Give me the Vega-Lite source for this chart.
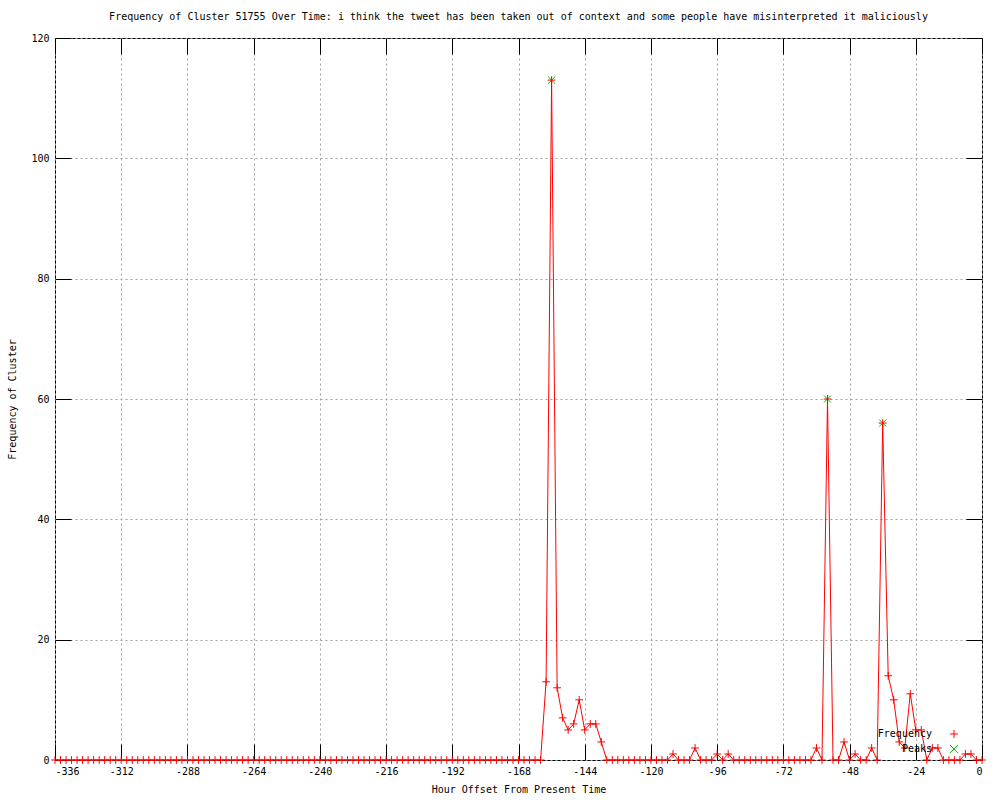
{
  "$schema": "https://vega.github.io/schema/vega-lite/v6.json",
  "autosize": {"type": "none"},
  "padding": {"left": 55, "top": 38, "right": 18, "bottom": 40},
  "width": 927,
  "height": 722,
  "background": "white",
  "title": {
    "text": "Frequency of Cluster 51755 Over Time: i think the tweet has been taken out of context and some people have misinterpreted it maliciously",
    "font": "DejaVu Sans Mono",
    "fontSize": 10,
    "fontWeight": "normal",
    "color": "black",
    "anchor": "middle",
    "offset": 11
  },
  "config": {
    "view": {"stroke": "black", "strokeWidth": 1},
    "axis": {
      "labelFont": "DejaVu Sans Mono",
      "labelFontSize": 10,
      "labelColor": "black",
      "titleFont": "DejaVu Sans Mono",
      "titleFontSize": 10,
      "titleFontWeight": "normal",
      "titleColor": "black",
      "tickColor": "black",
      "domain": false
    },
    "legend": {
      "labelFont": "DejaVu Sans Mono",
      "labelFontSize": 10,
      "labelColor": "black"
    }
  },
  "datasets": {
    "freq": [
      {"h":-336,"v":0},{"h":-334,"v":0},{"h":-332,"v":0},{"h":-330,"v":0},{"h":-328,"v":0},{"h":-326,"v":0},{"h":-324,"v":0},{"h":-322,"v":0},{"h":-320,"v":0},{"h":-318,"v":0},
      {"h":-316,"v":0},{"h":-314,"v":0},{"h":-312,"v":0},{"h":-310,"v":0},{"h":-308,"v":0},{"h":-306,"v":0},{"h":-304,"v":0},{"h":-302,"v":0},{"h":-300,"v":0},{"h":-298,"v":0},
      {"h":-296,"v":0},{"h":-294,"v":0},{"h":-292,"v":0},{"h":-290,"v":0},{"h":-288,"v":0},{"h":-286,"v":0},{"h":-284,"v":0},{"h":-282,"v":0},{"h":-280,"v":0},{"h":-278,"v":0},
      {"h":-276,"v":0},{"h":-274,"v":0},{"h":-272,"v":0},{"h":-270,"v":0},{"h":-268,"v":0},{"h":-266,"v":0},{"h":-264,"v":0},{"h":-262,"v":0},{"h":-260,"v":0},{"h":-258,"v":0},
      {"h":-256,"v":0},{"h":-254,"v":0},{"h":-252,"v":0},{"h":-250,"v":0},{"h":-248,"v":0},{"h":-246,"v":0},{"h":-244,"v":0},{"h":-242,"v":0},{"h":-240,"v":0},{"h":-238,"v":0},
      {"h":-236,"v":0},{"h":-234,"v":0},{"h":-232,"v":0},{"h":-230,"v":0},{"h":-228,"v":0},{"h":-226,"v":0},{"h":-224,"v":0},{"h":-222,"v":0},{"h":-220,"v":0},{"h":-218,"v":0},
      {"h":-216,"v":0},{"h":-214,"v":0},{"h":-212,"v":0},{"h":-210,"v":0},{"h":-208,"v":0},{"h":-206,"v":0},{"h":-204,"v":0},{"h":-202,"v":0},{"h":-200,"v":0},{"h":-198,"v":0},
      {"h":-196,"v":0},{"h":-194,"v":0},{"h":-192,"v":0},{"h":-190,"v":0},{"h":-188,"v":0},{"h":-186,"v":0},{"h":-184,"v":0},{"h":-182,"v":0},{"h":-180,"v":0},{"h":-178,"v":0},
      {"h":-176,"v":0},{"h":-174,"v":0},{"h":-172,"v":0},{"h":-170,"v":0},{"h":-168,"v":0},{"h":-166,"v":0},{"h":-164,"v":0},{"h":-162,"v":0},{"h":-160,"v":0},{"h":-158,"v":13},
      {"h":-156,"v":113},{"h":-154,"v":12},{"h":-152,"v":7},{"h":-150,"v":5},{"h":-148,"v":6},{"h":-146,"v":10},{"h":-144,"v":5},{"h":-142,"v":6},{"h":-140,"v":6},{"h":-138,"v":3},
      {"h":-136,"v":0},{"h":-134,"v":0},{"h":-132,"v":0},{"h":-130,"v":0},{"h":-128,"v":0},{"h":-126,"v":0},{"h":-124,"v":0},{"h":-122,"v":0},{"h":-120,"v":0},{"h":-118,"v":0},
      {"h":-116,"v":0},{"h":-114,"v":0},{"h":-112,"v":1},{"h":-110,"v":0},{"h":-108,"v":0},{"h":-106,"v":0},{"h":-104,"v":2},{"h":-102,"v":0},{"h":-100,"v":0},{"h":-98,"v":0},
      {"h":-96,"v":1},{"h":-94,"v":0},{"h":-92,"v":1},{"h":-90,"v":0},{"h":-88,"v":0},{"h":-86,"v":0},{"h":-84,"v":0},{"h":-82,"v":0},{"h":-80,"v":0},{"h":-78,"v":0},
      {"h":-76,"v":0},{"h":-74,"v":0},{"h":-72,"v":0},{"h":-70,"v":0},{"h":-68,"v":0},{"h":-66,"v":0},{"h":-64,"v":0},{"h":-62,"v":0},{"h":-60,"v":2},{"h":-58,"v":0},
      {"h":-56,"v":60},{"h":-54,"v":0},{"h":-52,"v":0},{"h":-50,"v":3},{"h":-48,"v":0},{"h":-46,"v":1},{"h":-44,"v":0},{"h":-42,"v":0},{"h":-40,"v":2},{"h":-38,"v":0},
      {"h":-36,"v":56},{"h":-34,"v":14},{"h":-32,"v":10},{"h":-30,"v":3},{"h":-28,"v":2},{"h":-26,"v":11},{"h":-24,"v":5},{"h":-22,"v":5},{"h":-20,"v":0},{"h":-18,"v":2},
      {"h":-16,"v":2},{"h":-14,"v":0},{"h":-12,"v":0},{"h":-10,"v":0},{"h":-8,"v":0},{"h":-6,"v":1},{"h":-4,"v":1},{"h":-2,"v":0},{"h":0,"v":0}
    ],
    "peaks": [
      {"h":-156,"v":113},{"h":-56,"v":60},{"h":-36,"v":56}
    ]
  },
  "resolve": {"axis": {"x": "independent", "y": "independent"}},
  "layer": [
    {
      "data": {"name": "freq"},
      "mark": {"type": "line", "color": "#ff0000", "strokeWidth": 1, "interpolate": "linear"},
      "encoding": {
        "x": {
          "field": "h", "type": "quantitative",
          "scale": {"domain": [-336, 0], "nice": false, "zero": false},
          "axis": {
            "orient": "bottom",
            "values": [-336,-312,-288,-264,-240,-216,-192,-168,-144,-120,-96,-72,-48,-24,0],
            "labelExpr": "'' + datum.value",
            "tickSize": -16,
            "labelPadding": 22,
            "grid": true,
            "gridColor": "#a0a0a0",
            "gridDash": [2, 3],
            "title": "Hour Offset From Present Time",
            "titlePadding": 8
          }
        },
        "y": {
          "field": "v", "type": "quantitative",
          "scale": {"domain": [0, 120], "nice": false},
          "axis": {
            "orient": "left",
            "values": [0,20,40,60,80,100,120],
            "tickSize": -16,
            "labelPadding": 22,
            "grid": true,
            "gridColor": "#a0a0a0",
            "gridDash": [2, 3],
            "title": "Frequency of Cluster",
            "titlePadding": 13
          }
        }
      }
    },
    {
      "data": {"name": "peaks"},
      "mark": {"type": "point", "filled": false, "strokeWidth": 1, "size": 50, "opacity": 1},
      "encoding": {
        "x": {"field": "h", "type": "quantitative",
          "axis": {"orient": "top", "values": [-336,-312,-288,-264,-240,-216,-192,-168,-144,-120,-96,-72,-48,-24,0], "labels": false, "grid": false, "tickSize": -16, "title": null}},
        "y": {"field": "v", "type": "quantitative",
          "axis": {"orient": "right", "values": [0,20,40,60,80,100,120], "labels": false, "grid": false, "tickSize": -16, "title": null}},
        "color": {
          "datum": "Peaks",
          "scale": {"domain": ["Frequency", "Peaks"], "range": ["#ff0000", "#00c000"]},
          "legend": {
            "title": null,
            "orient": "none",
            "legendX": 894,
            "legendY": 691,
            "symbolSize": 64,
            "symbolStrokeWidth": 1,
            "labelAlign": "right",
            "labelOffset": -27,
            "rowPadding": 3,
            "padding": 0
          }
        },
        "shape": {
          "datum": "Peaks",
          "scale": {"domain": ["Frequency", "Peaks"], "range": ["M-1,0L1,0M0,-1L0,1", "M-1,-1L1,1M-1,1L1,-1"]},
          "legend": {
            "title": null,
            "orient": "none",
            "legendX": 894,
            "legendY": 691,
            "symbolSize": 64,
            "symbolStrokeWidth": 1,
            "labelAlign": "right",
            "labelOffset": -27,
            "rowPadding": 3,
            "padding": 0
          }
        }
      }
    },
    {
      "data": {"name": "freq"},
      "mark": {"type": "point", "filled": false, "strokeWidth": 1, "size": 60, "opacity": 1},
      "encoding": {
        "x": {"field": "h", "type": "quantitative", "axis": null},
        "y": {"field": "v", "type": "quantitative", "axis": null},
        "color": {"datum": "Frequency"},
        "shape": {"datum": "Frequency"}
      }
    }
  ]
}
